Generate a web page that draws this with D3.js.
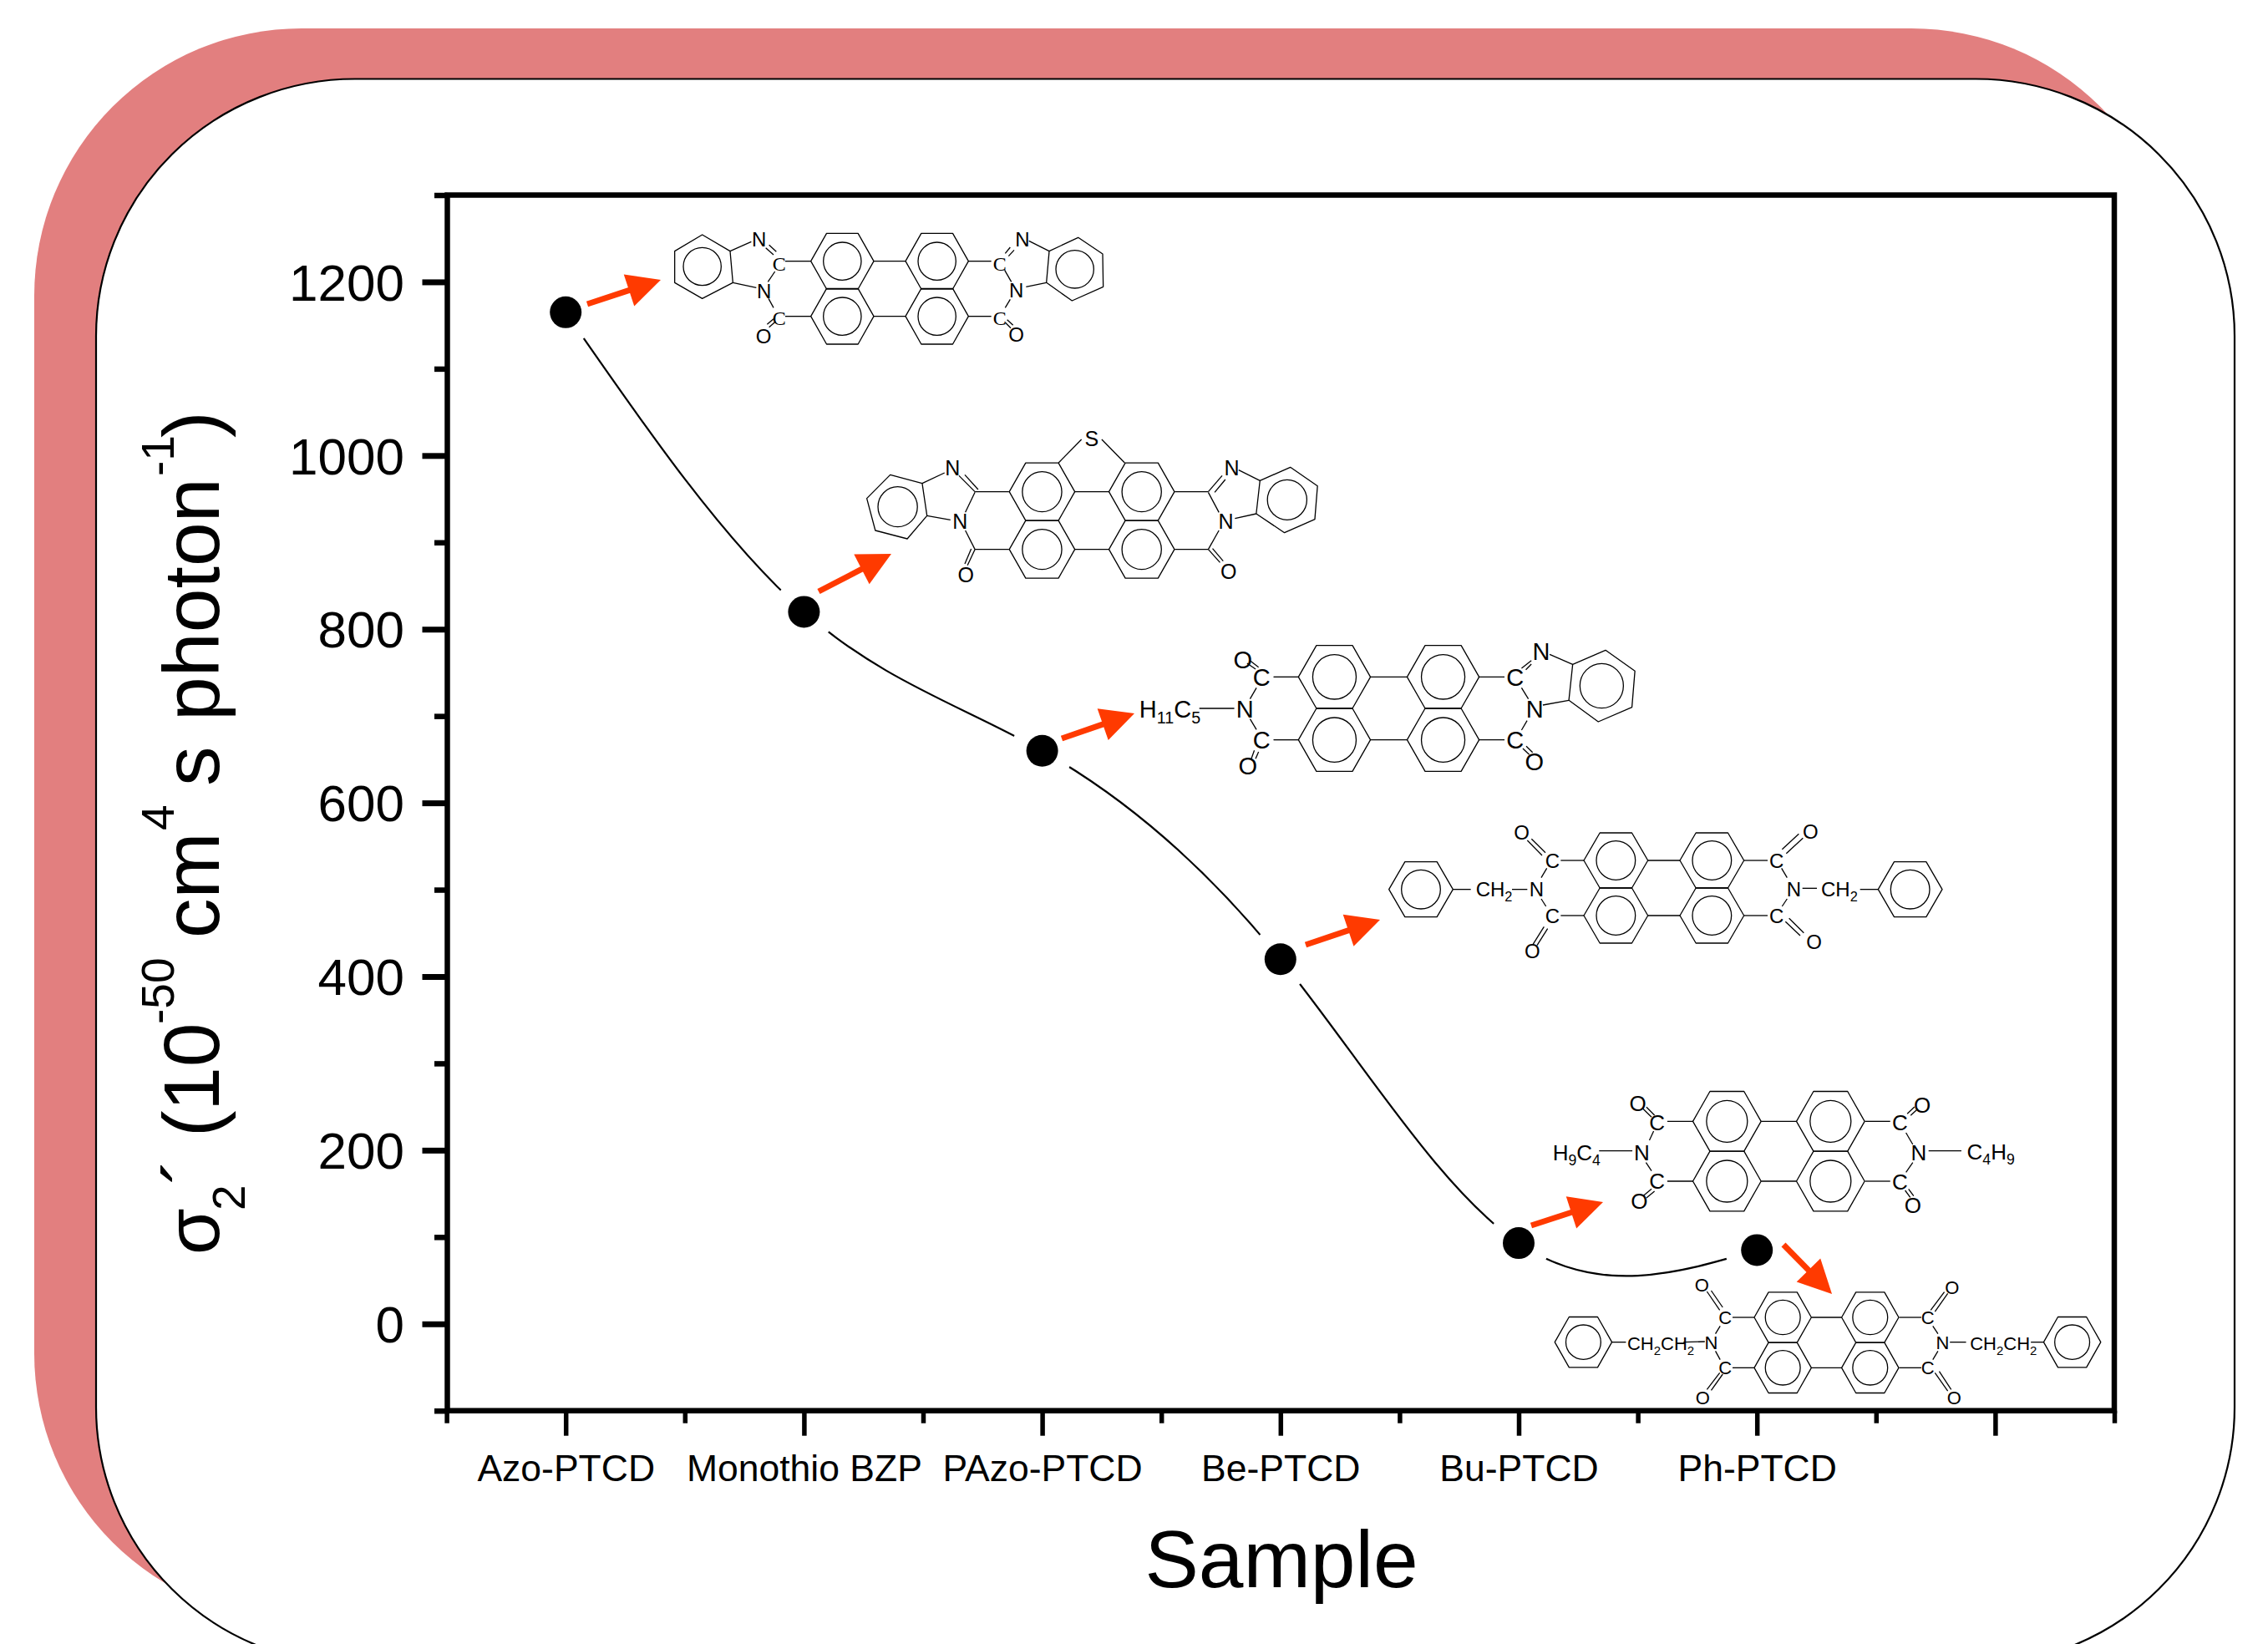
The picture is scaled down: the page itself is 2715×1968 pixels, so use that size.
<!DOCTYPE html>
<html><head><meta charset="utf-8">
<style>html,body{margin:0;padding:0;background:#fff}svg{display:block}text{font-family:"Liberation Sans",Arial,sans-serif;fill:#000}</style>
<script src="https://cdnjs.cloudflare.com/ajax/libs/d3/7.8.5/d3.min.js"></script>
</head><body><div id="c"></div>
<script>
const categories=["Azo-PTCD","Monothio BZP","PAzo-PTCD","Be-PTCD","Bu-PTCD","Ph-PTCD"];
const sigmaValues=[1165,820,660,420,93,85];
const yMajorTicks=[0,200,400,600,800,1000,1200];
const yMinorTicks=[-100,100,300,500,700,900,1100,1300];
const xMajorTicks=[1,2,3,4,5,6,7];
const xMinorTicks=[0.5,1.5,2.5,3.5,4.5,5.5,6.5,7.5];

const W=2715,H=1968;
const svg=d3.select("#c").append("svg").attr("width",W).attr("height",H).attr("viewBox",`0 0 ${W} ${H}`);
const x=d3.scaleLinear().domain([0.5,7.5]).range([534.6,2531]);
const y=d3.scaleLinear().domain([-100,1300]).range([1688.7,233.5]);
const frameL=535.5,frameR=2531;

// Card background
svg.append("rect").attr("x",41).attr("y",34).attr("width",2567).attr("height",1906).attr("rx",320).attr("ry",320).attr("fill","#e27f7f");
svg.append("rect").attr("x",115).attr("y",94.5).attr("width",2560).attr("height",1898).attr("rx",310).attr("ry",308).attr("fill","#fff").attr("stroke","#000").attr("stroke-width",2.2);

// Axes
const fmtX=d=>categories[d-1]||"";
const gy=svg.append("g").attr("transform",`translate(${frameL},0)`);
gy.call(d3.axisLeft(y).tickValues(yMinorTicks).tickSize(15.5).tickFormat(""));
const gy2=svg.append("g").attr("transform",`translate(${frameL},0)`);
gy2.call(d3.axisLeft(y).tickValues(yMajorTicks).tickSize(30).tickPadding(21.5).tickFormat(d3.format("d")));
const gx=svg.append("g").attr("transform",`translate(0,${y.range()[0]})`);
gx.call(d3.axisBottom(x).tickValues(xMinorTicks).tickSize(15).tickFormat(""));
const gx2=svg.append("g").attr("transform",`translate(0,${y.range()[0]})`);
gx2.call(d3.axisBottom(x).tickValues(xMajorTicks).tickSize(30).tickFormat(fmtX));
[gy,gy2,gx,gx2].forEach(g=>{g.select(".domain").remove();g.attr("font-family",null).attr("font-size",null)});
gy.selectAll("line").attr("stroke","#000").attr("stroke-width",6.5);
gy2.selectAll("line").attr("stroke","#000").attr("stroke-width",7);
gx.selectAll("line").attr("stroke","#000").attr("stroke-width",5.5);
gx2.selectAll("line").attr("stroke","#000").attr("stroke-width",5.5);
gy2.selectAll("text").attr("font-size",62).attr("dy","0.35em");
gx2.selectAll("text").attr("font-size",44.5).attr("y",84.3).attr("dy",0);
svg.append("rect").attr("x",frameL).attr("y",y.range()[1]).attr("width",frameR-frameL).attr("height",y.range()[0]-y.range()[1])
  .attr("fill","none").attr("stroke","#000").attr("stroke-width",6.5).attr("stroke-linejoin","miter");

// Axis titles
svg.append("text").attr("x",1534).attr("y",1900).attr("text-anchor","middle").attr("font-size",96.5).text("Sample");
const titleParts=[["σ",1502,262,90],["2",1449,293,55],["´",1418,262,95],["(",1361,262,95],["10",1330,262,95],["-50",1226,208,55],
 ["cm",1123,262,95],["4",994,208,55],["s",941,262,95],["photon",863,262,95],["-1",570,208,55],[")",524,262,95]];
const yTitle=svg.append("text").attr("transform","rotate(-90)");
titleParts.forEach(p=>yTitle.append("tspan").attr("x",-p[1]).attr("y",p[2]).attr("font-size",p[3]).text(p[0]));

// Data curve, gapped around symbols
const pts=sigmaValues.map((v,i)=>[i+1,v]);
svg.append("path").datum(pts).attr("fill","none").attr("stroke","#000").attr("stroke-width",2.2)
  .attr("d",d3.line().x(d=>x(d[0])).y(d=>y(d[1])).curve(d3.curveNatural));
svg.selectAll("circle.halo").data(pts).join("circle").attr("class","halo").attr("cx",d=>x(d[0])).attr("cy",d=>y(d[1])).attr("r",38).attr("fill","#fff");
svg.selectAll("circle.dot").data(pts).join("circle").attr("class","dot").attr("cx",d=>x(d[0])).attr("cy",d=>y(d[1])).attr("r",19).attr("fill","#000");

// Arrows from each point to its structure
const arrowEnds=[[703,364,791,335],[980,708,1067,663],[1271,884,1358,854],[1563,1131,1652,1101],[1833,1467,1919,1439],[2135,1490,2193,1549]];
arrowEnds.forEach(a=>{
  const [x1,y1,x2,y2]=a,len=Math.hypot(x2-x1,y2-y1),ux=(x2-x1)/len,uy=(y2-y1)/len,nx=-uy,ny=ux,hl=40,hw=20,bx=x2-ux*hl,by=y2-uy*hl;
  svg.append("line").attr("x1",x1).attr("y1",y1).attr("x2",bx+ux*2).attr("y2",by+uy*2).attr("stroke","#ff3a00").attr("stroke-width",7);
  svg.append("path").attr("d",`M${x2},${y2}L${bx+nx*hw},${by+ny*hw}L${bx-nx*hw},${by-ny*hw}Z`).attr("fill","#ff3a00");
});

// Chemical structures (each in its own drawing units)
function molecule(s){
  const g=svg.append("g"),X=v=>s.ox+v/s.kx,Y=v=>s.oy+v/s.ky,sw=s.sw||1.3;
  const poly=p=>g.append("polygon").attr("points",p.map(q=>X(q[0])+","+Y(q[1])).join(" ")).attr("fill","none").attr("stroke","#000").attr("stroke-width",sw).attr("stroke-linejoin","round");
  const ring=(cx,cy,rx,ry)=>g.append("ellipse").attr("cx",X(cx)).attr("cy",Y(cy)).attr("rx",rx/s.kx).attr("ry",ry/s.ky).attr("fill","none").attr("stroke","#000").attr("stroke-width",sw);
  const bond=b=>g.append("line").attr("x1",X(b[0])).attr("y1",Y(b[1])).attr("x2",X(b[2])).attr("y2",Y(b[3])).attr("stroke","#000").attr("stroke-width",sw);
  const hex=(cx,cy,hw,hh)=>poly([[cx-hw,cy],[cx-hw/2,cy-hh],[cx+hw/2,cy-hh],[cx+hw,cy],[cx+hw/2,cy+hh],[cx-hw/2,cy+hh]]);
  const c=s.core;
  c.cols.forEach(cx=>c.rows.forEach(cy=>{hex(cx,cy,c.hw,c.hh);ring(cx,cy,c.rx,c.ry)}));
  c.rows.forEach(cy=>bond([c.cols[0]+c.hw,cy,c.cols[1]-c.hw,cy]));
  (s.hexes||[]).forEach(h=>{hex(h[0],h[1],c.hw,c.hh);ring(h[0],h[1],c.rx,c.ry)});
  (s.polys||[]).forEach(p=>{poly(p.pts);ring(p.c[0],p.c[1],c.rx,c.ry)});
  (s.bonds||[]).forEach(bond);
  (s.labels||[]).forEach(l=>{
    const t=g.append("text").attr("x",X(l[1])).attr("y",Y(l[2])+s.fs*0.36).attr("font-size",s.fs).attr("text-anchor",l[3]||"middle");
    if(s.serifC&&l[0]==="C") t.style("font-family","'Liberation Serif',serif");
    let pending=0;
    l[0].split(/(\d+)/).filter(u=>u).forEach(u=>{
      const isSub=/\d/.test(u),sh=s.fs*0.25,sp=t.append("tspan").text(u);
      if(isSub){sp.attr("font-size",s.fs*0.68).attr("dy",sh);pending=-sh}
      else{if(pending)sp.attr("dy",pending);pending=0}
    });
  });
}
molecule({ox:800,oy:260,kx:3,ky:3,fs:24,serifC:true,
 core:{cols:[625,965],rows:[158,356],hw:113,hh:100,rx:68,ry:68},
 polys:[{pts:[[122,63],[222,122],[232,235],[122,292],[23,235],[23,122]],c:[122,177]},
        {pts:[[1368,122],[1472,73],[1560,132],[1562,250],[1450,300],[1358,235]],c:[1460,187]}],
 bonds:[[222,122,298,88],[232,235,316,253],[350,110,378,135],[362,100,388,124],[383,195,358,232],[360,292,378,325],[420,158,512,158],[420,356,512,356],[355,385,378,365],[362,395,385,375],
        [1077,158,1160,158],[1077,356,1160,356],[1210,130,1228,108],[1222,140,1242,118],[1208,190,1232,232],[1228,295,1210,325],[1210,378,1230,398],[1217,368,1238,388],[1295,85,1368,122],[1285,250,1358,235]],
 labels:[["N",326,78],["N",344,264],["C",398,165],["C",398,362],["O",342,428],["C",1190,165],["C",1190,362],["N",1272,78],["N",1250,262],["O",1250,420]]});
molecule({ox:1000,oy:500,kx:1.568,ky:3,fs:25,
 core:{cols:[388,575],rows:[266,473],hw:61.5,hh:103.5,rx:37,ry:72},
 polys:[{pts:[[103,205],[163,236],[172,352],[135,435],[75,405],[59,290]],c:[117,320]},
        {pts:[[797,226],[854,178],[905,245],[900,365],[843,413],[790,345]],c:[848,295]}],
 bonds:[[163,236,205,198],[172,352,216,367],[232,208,262,266],[243,205,268,258],[244,340,262,268],[244,405,262,473],[262,266,326,266],[262,473,326,473],[262,473,248,530],[255,471,243,525],[419,162,462,78],[500,78,543,162],
        [637,266,700,266],[637,473,700,473],[700,266,726,208],[712,268,732,222],[700,268,720,340],[720,405,700,473],[700,473,722,520],[708,470,728,515],[757,188,797,226],[750,362,790,345]],
 labels:[["N",220,180],["N",234,372],["O",245,565],["S",481,75],["N",744,180],["N",733,372],["O",738,553]]});
molecule({ox:1300,oy:720,kx:1.96,ky:3,fs:29,
 core:{cols:[583,838],rows:[271,497],hw:84.5,hh:113,rx:51,ry:80},
 polys:[{pts:[[1142,226],[1219,175],[1288,250],[1281,380],[1202,432],[1133,355]],c:[1210,303]}],
 bonds:[[266,384,348,384],[385,350,400,310],[385,422,400,460],[440,271,499,271],[440,497,499,497],[378,222,398,243],[386,214,405,236],[388,565,395,535],[398,565,405,540],
        [921,271,982,271],[921,497,982,497],[1022,240,1045,212],[1032,245,1045,225],[1022,310,1038,350],[1035,428,1022,462],[1025,528,1040,550],[1033,520,1048,542],[1088,190,1142,226],[1072,372,1133,355]],
 labels:[["H11C5",125,385,"start"],["N",373,385],["C",412,271],["C",412,497],["O",368,208],["O",380,590],["C",1007,271],["C",1007,497],["N",1068,178],["N",1053,385],["O",1052,575]]});
molecule({ox:1660,oy:970,kx:3,ky:3,fs:24,
 core:{cols:[823,1168],rows:[180,378],hw:115,hh:99,rx:70,ry:70},
 hexes:[[123,284],[1880,284]],
 bonds:[[238,284,302,284],[450,284,505,284],[555,242,575,208],[555,318,572,345],[625,180,708,180],[625,378,708,378],[505,108,558,162],[520,103,570,152],[525,482,565,418],[540,485,578,425],
        [1284,180,1368,180],[1284,378,1368,378],[1418,208,1438,242],[1438,318,1420,345],[1420,140,1480,85],[1435,155,1495,100],[1432,400,1485,450],[1445,388,1498,440],[1493,280,1545,280],[1700,284,1765,284]],
 labels:[["CH2",320,284,"start"],["N",538,284],["C",595,180],["C",595,380],["O",485,80],["O",523,505],["C",1400,180],["C",1400,380],["N",1462,284],["O",1522,75],["O",1535,472],["CH2",1560,284,"start"]]});
molecule({ox:1750,oy:1250,kx:1.96,ky:3,fs:26,
 core:{cols:[622,865],rows:[277,492],hw:80,hh:107.5,rx:48,ry:75},
 bonds:[[322,383,400,383],[440,345,450,312],[432,425,445,455],[482,277,543,277],[482,492,543,492],[425,232,445,262],[433,226,452,255],[425,545,445,520],[433,552,452,528],
        [946,277,1005,277],[946,492,1005,492],[1042,318,1058,360],[1058,425,1042,460],[1045,250,1062,225],[1053,256,1070,232],[1040,525,1052,550],[1048,520,1060,545],[1095,383,1172,383]],
 labels:[["H9C4",213,388,"start"],["N",422,388],["C",458,280],["C",458,490],["O",413,212],["O",416,563],["C",1028,282],["C",1028,495],["N",1072,388],["O",1080,217],["O",1058,577],["C4H9",1185,385,"start"]]});
molecule({ox:1750,oy:1250,kx:1.96,ky:3,fs:22,
 core:{cols:[753,958],rows:[981,1162],hw:67,hh:90.5,rx:41,ry:62},
 hexes:[[285,1070],[1432,1070]],
 bonds:[[352,1070,385,1070],[520,1070,570,1068],[595,1040,606,1012],[595,1102,606,1133],[635,981,686,981],[635,1162,686,1162],[575,888,605,955],[585,885,612,945],[575,1240,605,1180],[585,1243,612,1185],
        [1026,981,1078,981],[1026,1162,1078,1162],[1105,1012,1117,1040],[1117,1102,1105,1133],[1100,955,1132,890],[1110,960,1140,895],[1110,1180,1140,1245],[1120,1175,1148,1240],[1145,1070,1183,1070],[1335,1070,1365,1070]],
 labels:[["CH2CH2",388,1075,"start"],["N",585,1072],["C",618,980],["C",618,1162],["O",563,865],["O",565,1270],["C",1093,980],["C",1093,1162],["N",1128,1070],["O",1150,872],["O",1155,1270],["CH2CH2",1192,1075,"start"]]});
</script></body></html>
